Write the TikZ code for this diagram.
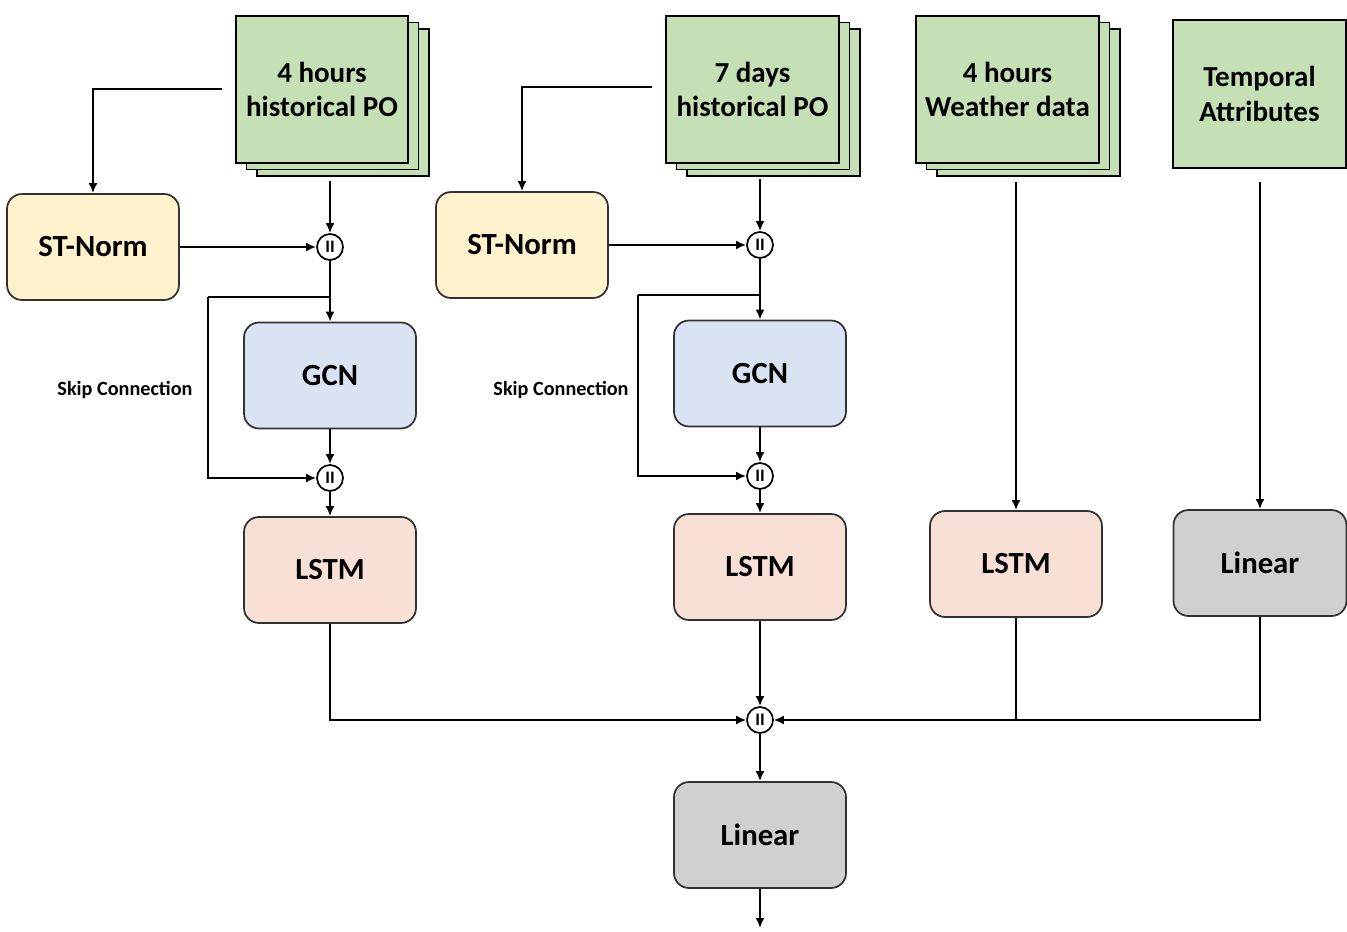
\documentclass[tikz,border=0pt]{standalone}
\usepackage{fontspec}
\setmainfont{Carlito}
\usepackage{tikz}
\usetikzlibrary{positioning}
\usetikzlibrary{arrows.meta}
\usetikzlibrary{shadows}
\definecolor{datagreen}{RGB}{197,224,180}
\definecolor{normyellow}{RGB}{255,242,204}
\definecolor{gcnblue}{RGB}{218,227,243}
\definecolor{lstmpink}{RGB}{249,224,214}
\definecolor{lingray}{RGB}{208,208,208}
\definecolor{edge}{RGB}{50,50,50}

\tikzset{
	block/.style={draw=edge,line width=1pt,rounded corners=0.3cm,minimum width=3.44cm,minimum height=2.12cm,font=\fontsize{17.5}{20}\selectfont\bfseries},
	datastack/.style={draw=black,line width=1pt,fill=datagreen,minimum height=2.94cm,align=center,font=\fontsize{16.5}{19.8}\selectfont\bfseries,
		double copy shadow={shadow xshift=0.21cm,shadow yshift=-0.13cm}},
	concat/.style={circle,draw=black,fill=white,line width=1pt,inner sep=0pt,minimum size=0.52cm,font=\fontsize{10}{10}\selectfont\bfseries},
	link/.style={line width=1.1pt,-{Latex[length=2mm,width=1.8mm]}}
}

\begin{document}
\begin{tikzpicture}[x=0.02cm,y=-0.02cm]
	\useasboundingbox (0,0) rectangle (1347,932);
	% inputs
	\node[datastack,minimum width=3.44cm] (hist4) at (322,89.5) {4 hours\\historical PO};
	\node[datastack,minimum width=3.46cm] (hist7) at (752.5,89.5) {7 days\\historical PO};
	\node[datastack,minimum width=3.66cm] (weather) at (1007.5,89.5) {4 hours\\Weather data};
	\node[draw=black,line width=1pt,fill=datagreen,minimum width=3.46cm,minimum height=2.96cm,align=center,font=\fontsize{16.5}{19.8}\selectfont\bfseries] (temporal) at (1259.5,94) {Temporal\\Attributes};
	% left branch
	\node[block,fill=normyellow] (normA) at (93,247) {ST-Norm};
	\node[concat] (catA1) at (330,247) {II};
	\node[block,fill=gcnblue] (gcnA) at (330,375.5) {GCN};
	\node[concat] (catA2) at (330,478) {II};
	\node[block,fill=lstmpink] (lstmA) at (330,570) {LSTM};
	\node[font=\fontsize{11.5}{12}\selectfont\bfseries] (skipA) at (125,390) {Skip Connection};
	% middle branch
	\node[block,fill=normyellow] (normB) at (522,245) {ST-Norm};
	\node[concat] (catB1) at (760,245) {II};
	\node[block,fill=gcnblue] (gcnB) at (760,373.5) {GCN};
	\node[concat] (catB2) at (760,476) {II};
	\node[block,fill=lstmpink] (lstmB) at (760,567) {LSTM};
	\node[font=\fontsize{11.5}{12}\selectfont\bfseries] (skipB) at (561,390) {Skip Connection};
	% right branches
	\node[block,fill=lstmpink] (lstmC) at (1016,564) {LSTM};
	\node[block,fill=lingray,minimum width=3.46cm] (linC) at (1260,563) {Linear};
	% output
	\node[concat] (catOut) at (760,720) {II};
	\node[block,fill=lingray] (linOut) at (760,835) {Linear};

	\coordinate (tapA) at (222,89);
	\coordinate (tapB) at (652,87);
	\coordinate (inA) at (330,181);
	\coordinate (inB) at (760,179);
	\coordinate (inC) at (1016,182);
	\coordinate (inD) at (1260,182);
	\coordinate (splitA) at (330,297);
	\coordinate (splitB) at (760,295);
	\coordinate (bendA) at (208,297);
	\coordinate (bendB) at (638,295);
	\coordinate (result) at (760,928);

	\draw[link] (tapA) -| (normA.north);
	\draw[link] (inA) -- (catA1);
	\draw[link] (normA) -- (catA1);
	\draw[link] (catA1) -- (gcnA);
	\draw[line width=1.1pt] (splitA) -- (bendA);
	\draw[link] (bendA) |- (catA2);
	\draw[link] (gcnA) -- (catA2);
	\draw[link] (catA2) -- (lstmA);

	\draw[link] (tapB) -| (normB.north);
	\draw[link] (inB) -- (catB1);
	\draw[link] (normB) -- (catB1);
	\draw[link] (catB1) -- (gcnB);
	\draw[line width=1.1pt] (splitB) -- (bendB);
	\draw[link] (bendB) |- (catB2);
	\draw[link] (gcnB) -- (catB2);
	\draw[link] (catB2) -- (lstmB);

	\draw[link] (inC) -- (lstmC);
	\draw[link] (inD) -- (linC);

	\draw[link] (lstmA.south) |- (catOut);
	\draw[link] (lstmB) -- (catOut);
	\draw[link] (linC.south) |- (catOut);
	\draw[line width=1.1pt] (lstmC.south) -- (lstmC.south |- catOut);
	\draw[link] (catOut) -- (linOut);
	\draw[link] (linOut) -- (result);
\end{tikzpicture}
\end{document}
